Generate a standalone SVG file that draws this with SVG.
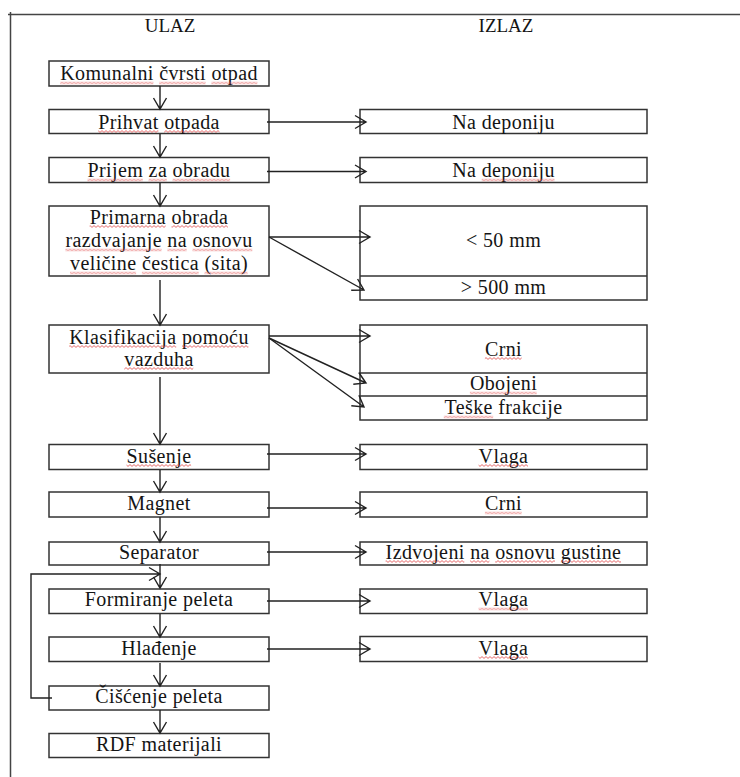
<svg xmlns="http://www.w3.org/2000/svg" width="740" height="777" viewBox="0 0 740 777">
  <style>
    .box { fill: #ffffff; stroke: #333333; stroke-width: 1.5; }
    .t { font-size: 20px; letter-spacing: 0.4px; fill: #141414; text-anchor: middle; }
    .h { font-size: 19px; fill: #141414; text-anchor: middle; }
    .c { fill: none; stroke: #222222; stroke-width: 1.4; }
    .frame { fill: none; stroke: #444444; stroke-width: 1.5; }
    .sq { fill: url(#wave); }
  </style>
  <defs>
    <!-- red zig-zag used for spell-check style underlines -->
    <pattern id="wave" patternUnits="userSpaceOnUse" width="4" height="3">
      <path d="M0,2.4 L2,0.6 L4,2.4" fill="none" stroke="#e04848" stroke-width="0.8"/>
    </pattern>
  </defs>

  <rect width="740" height="777" fill="#ffffff"/>

  <!-- page frame -->
  <path class="frame" d="M8,14.5 H740 M10.5,12 V777"/>

  <!-- column headings -->
  <g font-family="Liberation Serif, Times New Roman, serif">
    <text class="h" x="170" y="32">ULAZ</text>
    <text class="h" x="506" y="32">IZLAZ</text>
  </g>

  <g font-family="Liberation Serif, Times New Roman, serif">
    <!-- input column -->
    <g id="komunalni">
      <rect class="box" x="49" y="61" width="220" height="25"/>
      <text class="t" x="159" y="80">Komunalni čvrsti otpad</text>
      <rect class="sq" x="60.2" y="0" width="93.2" height="3" transform="translate(0,81.5)"/>
      <rect class="sq" x="159.2" y="0" width="46.4" height="3" transform="translate(0,81.5)"/>
      <rect class="sq" x="211.4" y="0" width="46" height="3" transform="translate(0,81.5)"/>
    </g>
    <g id="prihvat">
      <rect class="box" x="49" y="109.5" width="220" height="24"/>
      <text class="t" x="159" y="128.5">Prihvat otpada</text>
      <rect class="sq" x="98.2" y="0" width="60.2" height="3" transform="translate(0,130)"/>
      <rect class="sq" x="164.2" y="0" width="55.3" height="3" transform="translate(0,130)"/>
    </g>
    <g id="prijem">
      <rect class="box" x="49" y="157.5" width="220" height="25"/>
      <text class="t" x="159" y="177">Prijem za obradu</text>
      <rect class="sq" x="87.5" y="0" width="55.3" height="3" transform="translate(0,178.5)"/>
      <rect class="sq" x="148.6" y="0" width="18.2" height="3" transform="translate(0,178.5)"/>
      <rect class="sq" x="172.6" y="0" width="57.5" height="3" transform="translate(0,178.5)"/>
    </g>
    <g id="primarna">
      <rect class="box" x="49" y="206" width="220" height="70"/>
      <text class="t" x="159" y="223.5">Primarna obrada</text>
      <text class="t" x="159" y="247">razdvajanje na osnovu</text>
      <text class="t" x="159" y="270">veličine čestica (sita)</text>
      <rect class="sq" x="89.6" y="0" width="76.1" height="3" transform="translate(0,225)"/>
      <rect class="sq" x="171.5" y="0" width="56.4" height="3" transform="translate(0,225)"/>
      <rect class="sq" x="65.4" y="0" width="96.2" height="3" transform="translate(0,248.5)"/>
      <rect class="sq" x="167.4" y="0" width="19.3" height="3" transform="translate(0,248.5)"/>
      <rect class="sq" x="192.5" y="0" width="59.8" height="3" transform="translate(0,248.5)"/>
      <rect class="sq" x="70" y="0" width="66.1" height="3" transform="translate(0,271.5)"/>
      <rect class="sq" x="141.9" y="0" width="56.8" height="3" transform="translate(0,271.5)"/>
      <rect class="sq" x="204.5" y="0" width="43.1" height="3" transform="translate(0,271.5)"/>
    </g>
    <g id="klasifikacija">
      <rect class="box" x="49" y="325" width="220" height="48"/>
      <text class="t" x="159" y="343.5">Klasifikacija pomoću</text>
      <text class="t" x="159" y="365.5">vazduha</text>
      <rect class="sq" x="69.2" y="0" width="107" height="3" transform="translate(0,345)"/>
      <rect class="sq" x="182" y="0" width="66.4" height="3" transform="translate(0,345)"/>
      <rect class="sq" x="124.3" y="0" width="69" height="3" transform="translate(0,367)"/>
    </g>
    <g id="susenje">
      <rect class="box" x="49" y="444.5" width="220" height="25"/>
      <text class="t" x="159" y="462.5">Sušenje</text>
      <rect class="sq" x="126.5" y="0" width="64.6" height="3" transform="translate(0,464)"/>
    </g>
    <g id="magnet">
      <rect class="box" x="49" y="492" width="220" height="25"/>
      <text class="t" x="159" y="510">Magnet</text>
    </g>
    <g id="separator">
      <rect class="box" x="49" y="542" width="220" height="23"/>
      <text class="t" x="159" y="558.5">Separator</text>
    </g>
    <g id="formiranje">
      <rect class="box" x="49" y="589" width="220" height="24.5"/>
      <text class="t" x="159" y="606">Formiranje peleta</text>
    </g>
    <g id="hladjenje">
      <rect class="box" x="49" y="637" width="220" height="24.5"/>
      <text class="t" x="159" y="654.5">Hlađenje</text>
    </g>
    <g id="ciscenje">
      <rect class="box" x="49" y="686" width="220" height="24"/>
      <text class="t" x="159" y="702.5">Čišćenje peleta</text>
    </g>
    <g id="rdf">
      <rect class="box" x="49" y="733.5" width="220" height="24"/>
      <text class="t" x="159" y="750.5">RDF materijali</text>
    </g>

    <!-- output column -->
    <g id="deponija1">
      <rect class="box" x="360" y="109.5" width="287" height="24"/>
      <text class="t" x="503.5" y="128.5">Na deponiju</text>
    </g>
    <g id="deponija2">
      <rect class="box" x="360" y="157.5" width="287" height="25"/>
      <text class="t" x="503.5" y="177">Na deponiju</text>
      <rect class="sq" x="481.7" y="0" width="72.8" height="3" transform="translate(0,178.5)"/>
    </g>
    <g id="frakcije-sita">
      <rect class="box" x="360" y="206" width="287" height="94"/>
      <path class="box" d="M360,276 H647"/>
      <text class="t" x="503.5" y="247">&lt; 50 mm</text>
      <text class="t" x="503.5" y="293.5">&gt; 500 mm</text>
    </g>
    <g id="frakcije-vazduh">
      <rect class="box" x="360" y="325" width="287" height="95"/>
      <path class="box" d="M360,373 H647 M360,396 H647"/>
      <text class="t" x="503.5" y="355.5">Crni</text>
      <text class="t" x="503.5" y="390">Obojeni</text>
      <text class="t" x="503.5" y="414">Teške frakcije</text>
      <rect class="sq" x="484.9" y="0" width="36.8" height="3" transform="translate(0,357)"/>
      <rect class="sq" x="469.9" y="0" width="66.8" height="3" transform="translate(0,391.5)"/>
      <rect class="sq" x="443.8" y="0" width="49.4" height="3" transform="translate(0,415.5)"/>
    </g>
    <g id="vlaga1">
      <rect class="box" x="360" y="444.5" width="287" height="25"/>
      <text class="t" x="503.5" y="462.5">Vlaga</text>
      <rect class="sq" x="478.6" y="0" width="49.4" height="3" transform="translate(0,464)"/>
    </g>
    <g id="crni">
      <rect class="box" x="360" y="492" width="287" height="25"/>
      <text class="t" x="503.5" y="510">Crni</text>
      <rect class="sq" x="484.9" y="0" width="36.8" height="3" transform="translate(0,511.5)"/>
    </g>
    <g id="izdvojeni">
      <rect class="box" x="360" y="542" width="287" height="23"/>
      <text class="t" x="503.5" y="558.5">Izdvojeni na osnovu gustine</text>
      <rect class="sq" x="385.6" y="0" width="78.7" height="3" transform="translate(0,560)"/>
      <rect class="sq" x="470.1" y="0" width="19.3" height="3" transform="translate(0,560)"/>
      <rect class="sq" x="495.2" y="0" width="59.8" height="3" transform="translate(0,560)"/>
      <rect class="sq" x="560.8" y="0" width="60.2" height="3" transform="translate(0,560)"/>
    </g>
    <g id="vlaga2">
      <rect class="box" x="360" y="589" width="287" height="24.5"/>
      <text class="t" x="503.5" y="606">Vlaga</text>
      <rect class="sq" x="478.6" y="0" width="49.4" height="3" transform="translate(0,607.5)"/>
    </g>
    <g id="vlaga3">
      <rect class="box" x="360" y="636.5" width="287" height="25"/>
      <text class="t" x="503.5" y="654.5">Vlaga</text>
      <rect class="sq" x="478.6" y="0" width="49.4" height="3" transform="translate(0,656)"/>
    </g>
  </g>

  <!-- connectors: each shaft is drawn with its open arrowhead, on top of the boxes -->
  <g id="connectors">
    <path class="c" d="M160,86 V109 M153.5,98 L160,109 L166.5,98"/>
    <path class="c" d="M160,134 V157 M153.5,146 L160,157 L166.5,146"/>
    <path class="c" d="M160,183 V206 M153.5,195 L160,206 L166.5,195"/>
    <path class="c" d="M160,280 V325 M153.5,314 L160,325 L166.5,314"/>
    <path class="c" d="M160,377 V444 M153.5,433 L160,444 L166.5,433"/>
    <path class="c" d="M160,470 V492 M153.5,481 L160,492 L166.5,481"/>
    <path class="c" d="M160,517 V542 M153.5,531 L160,542 L166.5,531"/>
    <path class="c" d="M160,564 V588 M153.5,577 L160,588 L166.5,577"/>
    <path class="c" d="M160,614 V637 M153.5,626 L160,637 L166.5,626"/>
    <path class="c" d="M160,663 V686 M153.5,675 L160,686 L166.5,675"/>
    <path class="c" d="M160,710 V733 M153.5,722 L160,733 L166.5,722"/>

    <path class="c" d="M267,122 H366 M355,115.5 L366,122 L355,128.5"/>
    <path class="c" d="M267,171.5 H366 M355,165 L366,171.5 L355,178"/>
    <path class="c" d="M269,237 H370 M359,230.5 L370,237 L359,243.5"/>
    <path class="c" d="M269,237 L364,290 M351.2,290.3 L364,290 L357.6,279"/>
    <path class="c" d="M269,336 H370 M359,329.5 L370,336 L359,342.5"/>
    <path class="c" d="M269,338 L366,383 M353.3,384.3 L366,383 L358.8,372.5"/>
    <path class="c" d="M269,338 L364,407 M351.3,405.8 L364,407 L358.9,395.3"/>
    <path class="c" d="M267,454 H366 M355,447.5 L366,454 L355,460.5"/>
    <path class="c" d="M267,508 H366 M355,501.5 L366,508 L355,514.5"/>
    <path class="c" d="M267,552 H366 M355,545.5 L366,552 L355,558.5"/>
    <path class="c" d="M267,601 H370 M359,594.5 L370,601 L359,607.5"/>
    <path class="c" d="M267,649 H370 M359,642.5 L370,649 L359,655.5"/>

    <!-- return loop from pellet cleaning back to pellet forming -->
    <path class="c" d="M52,698 H31 V574 H160 M149,567.5 L160,574 L149,580.5"/>
  </g>
</svg>
